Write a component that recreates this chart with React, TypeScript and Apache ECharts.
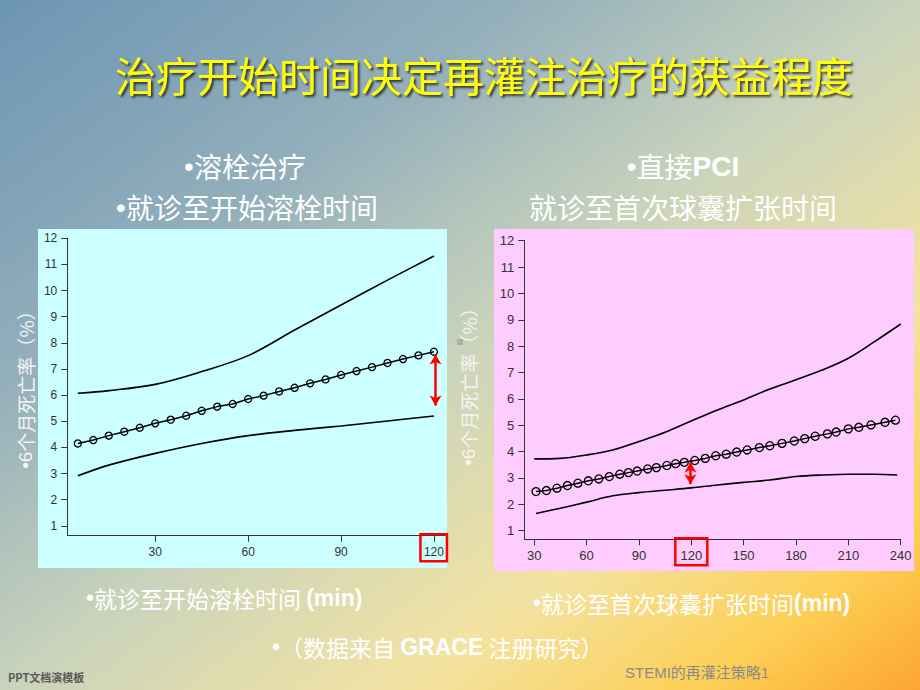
import React, { useEffect, useRef } from "react";
import * as echarts from "echarts";

// ---------- Data ----------
const leftMidX = [5, 10, 15, 20, 25, 30, 35, 40, 45, 50, 55, 60, 65, 70, 75, 80, 85, 90, 95, 100, 105, 110, 115, 120];
const leftMid = [4.15, 4.28, 4.45, 4.6, 4.75, 4.92, 5.06, 5.21, 5.4, 5.56, 5.66, 5.85, 5.98, 6.14, 6.28, 6.45, 6.6, 6.77, 6.92, 7.07, 7.23, 7.38, 7.52, 7.66];
const leftBandX = [5, 15, 30, 45, 60, 75, 90, 105, 120];
const leftUpper = [6.07, 6.17, 6.41, 6.9, 7.51, 8.49, 9.45, 10.4, 11.32];
const leftLower = [2.91, 3.32, 3.77, 4.15, 4.45, 4.65, 4.82, 5.01, 5.2];
const leftArrow = [7.55, 5.6];
const leftXTicks = [30, 60, 90, 120];

const rightMidX = [31, 37, 43, 49, 55, 61, 67, 73, 79, 84, 89, 95, 100, 106, 111, 116, 122, 128, 134, 140, 146, 152, 159, 165, 172, 179, 185, 191, 198, 203, 210, 216, 223, 231, 237];
const rightMid = [2.48, 2.52, 2.61, 2.71, 2.8, 2.89, 2.96, 3.05, 3.14, 3.2, 3.26, 3.34, 3.39, 3.47, 3.54, 3.59, 3.66, 3.74, 3.84, 3.9, 3.98, 4.06, 4.15, 4.22, 4.31, 4.4, 4.49, 4.58, 4.67, 4.74, 4.86, 4.92, 5.01, 5.11, 5.19];
const rightUpperX = [30, 45, 60, 75, 90, 105, 120, 135, 150, 165, 180, 195, 210, 225, 240];
const rightUpper = [3.72, 3.74, 3.87, 4.06, 4.38, 4.73, 5.16, 5.58, 5.96, 6.37, 6.72, 7.09, 7.54, 8.17, 8.84];
const rightLowerX = [31, 45, 60, 75, 90, 105, 120, 135, 150, 165, 180, 195, 210, 225, 238];
const rightLower = [1.65, 1.85, 2.08, 2.32, 2.44, 2.53, 2.62, 2.73, 2.83, 2.92, 3.05, 3.11, 3.14, 3.14, 3.11];
const rightArrow = [3.58, 2.76];
const rightXTicks = [30, 60, 90, 120, 150, 180, 210, 240];

const yTicks = [1, 2, 3, 4, 5, 6, 7, 8, 9, 10, 11, 12];
const highlightX = 120;

const title = "治疗开始时间决定再灌注治疗的获益程度";

const zip = (xs: number[], ys: number[]) => xs.map((x, i) => [x, ys[i]]);

const CJK = '"Noto Sans CJK SC", "Noto Sans", sans-serif';
const LAT = '"Liberation Sans", Arial, sans-serif';

const richStyles = (fs: number, fill = "#fff", lh?: number) => ({
  d: { fontSize: fs, fontFamily: LAT, fill, lineHeight: lh },
  c: { fontSize: fs, fontFamily: CJK, fill, lineHeight: lh },
  b: { fontSize: fs, fontFamily: LAT, fontWeight: "bold", fill, lineHeight: lh },
});

export default function App() {
  const ref = useRef<HTMLDivElement>(null);
  useEffect(() => {
    if (!ref.current) return;
    const chart = echarts.init(ref.current, undefined, { renderer: "svg" });

    const yMinL = 0.62;
    const yMinR = 0.67;

    const axisCommon = (fs: number) => ({
      axisLine: { show: true, lineStyle: { color: "#333", width: 1 } },
      axisTick: { show: true, length: 6, lineStyle: { color: "#333", width: 1 } },
      axisLabel: { color: "#333", fontFamily: LAT, fontSize: fs },
      splitLine: { show: false },
    });

    const xAxisL: any = { type: "value", gridIndex: 0, min: 1.6, max: 123.6, ...axisCommon(12) };
    xAxisL.axisTick = { ...xAxisL.axisTick, customValues: leftXTicks };
    xAxisL.axisLabel = { ...xAxisL.axisLabel, customValues: leftXTicks, margin: 10 };

    const xAxisR: any = { type: "value", gridIndex: 1, min: 24.3, max: 240, ...axisCommon(13) };
    xAxisR.axisTick = { ...xAxisR.axisTick, customValues: rightXTicks };
    xAxisR.axisLabel = { ...xAxisR.axisLabel, customValues: rightXTicks, margin: 10 };

    const yAxisL: any = { type: "value", gridIndex: 0, min: yMinL, max: 12, ...axisCommon(12) };
    yAxisL.axisTick = { ...yAxisL.axisTick, customValues: yTicks };
    yAxisL.axisLabel = { ...yAxisL.axisLabel, customValues: yTicks, margin: 10 };
    const yAxisR: any = { type: "value", gridIndex: 1, min: yMinR, max: 12, ...axisCommon(13) };
    yAxisR.axisTick = { ...yAxisR.axisTick, customValues: yTicks };
    yAxisR.axisLabel = { ...yAxisR.axisLabel, customValues: yTicks, margin: 10 };

    const bandLine = (xi: number, data: number[][]) => ({
      type: "line", xAxisIndex: xi, yAxisIndex: xi, data, smooth: 0.35,
      showSymbol: false, symbol: "none",
      lineStyle: { color: "#000", width: 1.6 }, z: 3,
    });
    const midLine = (xi: number, data: number[][], size: number, arrowX: number, arrow: number[]) => ({
      type: "line", xAxisIndex: xi, yAxisIndex: xi, data,
      symbol: "circle", symbolSize: size, showSymbol: true,
      itemStyle: { color: "rgba(0,0,0,0)", borderColor: "#000", borderWidth: 1.3 },
      lineStyle: { color: "#000", width: 1.5 }, z: 4,
      markLine: {
        silent: true, symbol: ["arrow", "arrow"], symbolSize: [9, 10],
        label: { show: false },
        lineStyle: { color: "#ff0000", width: 2.5, type: "solid" },
        data: [[{ coord: [arrowX, arrow[0]] }, { coord: [arrowX, arrow[1]] }]],
      },
    });

    const richText = (text: string, x: number, y: number, fs: number, align = "center", extra: any = {}, fill = "#fff", lh?: number) => ({
      type: "text", x, y, z: 100, ...extra,
      style: {
        text, align, verticalAlign: "middle", fontSize: fs, lineHeight: lh ?? fs,
        fontFamily: CJK, fill, rich: richStyles(fs, fill, lh ?? fs),
      },
    });

    const baseGraphics: any[] = [
      { type: "rect", shape: { x: 38, y: 229, width: 409, height: 339 }, style: { fill: "#ccffff" }, z: -10, silent: true },
      { type: "rect", shape: { x: 494, y: 229, width: 420, height: 342 }, style: { fill: "#ffccff" }, z: -10, silent: true },
      {
        type: "text", x: 484, y: 74, z: 100,
        style: {
          text: title, align: "center", verticalAlign: "middle",
          fill: "#ffff00", fontSize: 41, fontFamily: CJK, lineHeight: 41,
          textShadowColor: "rgba(40,40,40,0.9)", textShadowOffsetX: 2, textShadowOffsetY: 2, textShadowBlur: 2,
        },
      },
      richText("{d|•}{c|溶栓治疗}", 245, 166, 28),
      richText("{d|•}{c|就诊至开始溶栓时间}", 247, 207, 28),
      richText("{d|•}{c|直接}{b|PCI}", 683, 166, 28),
      richText("{c|就诊至首次球囊扩张时间}", 683, 207, 28),
      richText("{d|•6}{c|个月死亡率（%）}", 25, 385, 19, "center", { rotation: Math.PI / 2 }, "#f4f4f4"),
      richText("{d|•6}{c|个月死亡率（%）}", 468, 382, 19, "center", { rotation: Math.PI / 2 }, "#f4f4f4"),
      { type: "rect", shape: { x: 457, y: 339, width: 6, height: 6 }, style: { fill: "rgba(160,160,160,0.7)" }, z: 100, silent: true },
      richText("{d|•}{c|就诊至开始溶栓时间 }{b|(min)}", 86, 598, 23, "left"),
      richText("{d|•}{c|就诊至首次球囊扩张时间}{b|(min)}", 533, 603, 23, "left"),
      richText("{d|•}{c|（数据来自 }{b|GRACE}{c| 注册研究）}", 272, 647, 23, "left"),
      {
        type: "text", x: 8, y: 677, z: 100,
        style: { text: "PPT文档演模板", align: "left", verticalAlign: "middle", fontSize: 11, fontWeight: "bold", fill: "#5a5a5a", fontFamily: CJK },
      },
      {
        type: "text", x: 625, y: 672, z: 100,
        style: { text: "STEMI的再灌注策略1", align: "left", verticalAlign: "middle", fontSize: 15, fill: "#8a8a8a", fontFamily: LAT + ", " + CJK },
      },
    ];

    const option: any = {
      animation: false,
      backgroundColor: {
        type: "linear", x: 0, y: 0, x2: 1, y2: 1,
        colorStops: [
          { offset: 0, color: "#6c95b4" },
          { offset: 0.28, color: "#93afbb" },
          { offset: 0.5, color: "#c9d3bc" },
          { offset: 0.72, color: "#f3e3a2" },
          { offset: 0.88, color: "#fdcf55" },
          { offset: 1, color: "#fca532" },
        ],
      },
      grid: [
        { left: 67.3, top: 238.3, width: 377.8, height: 297.4 },
        { left: 524.3, top: 240.7, width: 376.4, height: 298.6 },
      ],
      xAxis: [xAxisL, xAxisR],
      yAxis: [yAxisL, yAxisR],
      series: [
        bandLine(0, zip(leftBandX, leftUpper)),
        bandLine(0, zip(leftBandX, leftLower)),
        midLine(0, zip(leftMidX, leftMid), 7, 120.5, leftArrow),
        bandLine(1, zip(rightUpperX, rightUpper)),
        bandLine(1, zip(rightLowerX, rightLower)),
        midLine(1, zip(rightMidX, rightMid), 8, 119.5, rightArrow),
      ],
      graphic: { elements: baseGraphics },
    };
    chart.setOption(option);

    // red boxes around the highlighted 120 tick labels, placed through the axes
    const pL = chart.convertToPixel({ xAxisIndex: 0, yAxisIndex: 0 }, [highlightX, yMinL]) as number[];
    const pR = chart.convertToPixel({ xAxisIndex: 1, yAxisIndex: 1 }, [highlightX, yMinR]) as number[];
    const boxes = [
      { type: "rect", z: 110, silent: true, shape: { x: pL[0] - 13.5, y: pL[1] - 1.5, width: 26.5, height: 27 }, style: { fill: "none", stroke: "#ff0000", lineWidth: 2.5 } },
      { type: "rect", z: 110, silent: true, shape: { x: pR[0] - 16, y: pR[1] - 1, width: 32, height: 27 }, style: { fill: "none", stroke: "#ff0000", lineWidth: 2.5 } },
    ];
    chart.setOption({ graphic: { elements: [...baseGraphics, ...boxes] } }, { replaceMerge: ["graphic"] });

    return () => chart.dispose();
  }, []);
  return (
    <div
      ref={ref}
      style={{ position: "absolute", left: 0, top: 0, width: 920, height: 690 }}
    />
  );
}
